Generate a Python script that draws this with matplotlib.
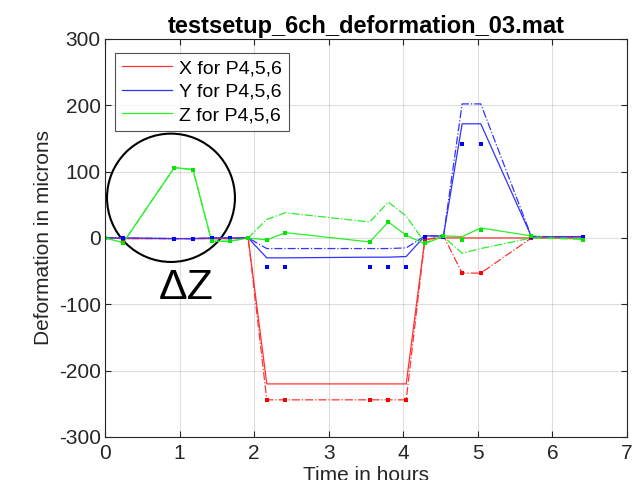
import matplotlib
matplotlib.use("Agg")
import matplotlib.pyplot as plt
from matplotlib.patches import Ellipse
from matplotlib.lines import Line2D

plt.rcParams['font.family'] = ['Liberation Sans', 'DejaVu Sans']
plt.rcParams['axes.unicode_minus'] = False

# time points (hours)
t = [0, 0.245, 0.93, 1.18, 1.43, 1.67, 1.92, 2.17, 2.42, 3.55, 3.80, 4.04,
     4.29, 4.54, 4.79, 5.04, 5.72, 6.41]

# X deformation (red)
x_p4 = [0, -1, -1, -1, -1, -1, 0, -220, -220, -220, -220, -220, -2, 0, 0, 0, 0, 0]
x_p5 = [0, -1, -1, -1, -1, -1, 0, -244, -244, -244, -244, -244, -3, 3, -53, -53, 0, 0]
x_p6 = [0, -1, -1, -1, -1, -1, 0, -244, -244, -244, -244, -244, -3, 2, -53, -53, 0, 0]

# Y deformation (blue)
y_p4 = [0, 0, -1, -1, 0, 0, 0, -30, -30, -29, -29, -28, 3, 3, 172, 172, 2, 2]
y_p5 = [0, 0, -1, -1, 0, 0, 0, -16, -16, -16, -16, -15, 3, 3, 202, 202, 2, 2]
y_p6 = [0, 0, -2, -2, 0, 0, 0, -44, -44, -44, -44, -44, 2, 2, 142, 142, 1, 2]

# Z deformation (green)
z_p4 = [0, -7, 106, 103, -5, -5, 0, -3, 8, -6, 24, 4, -9, 3, 2, 15, 3, -2]
z_p5 = [0, -7, 106, 103, -5, -5, 0, 28, 38, 24, 54, 33, -7, 2, -23, -16, 0, -2]
z_p6 = [0, -7, 106, 103, -5, -5, 0, -3, 8, -6, 24, 4, -8, 3, -3, 12, 3, -3]

legend_labels = ['X for P4,5,6', 'Y for P4,5,6', 'Z for P4,5,6']
title_text = 'testsetup_6ch_deformation_03.mat'
xlabel_text = 'Time in hours'
ylabel_text = 'Deformation in microns'
annot_text = 'ΔZ'

RED = (1.0, 0.2, 0.2)
BLUE = (0.2, 0.2, 1.0)
GREEN = (0.15, 0.95, 0.15)
DARK = (0.15, 0.15, 0.15)

fig = plt.figure(figsize=(6.41, 4.80), dpi=100)
ax = fig.add_axes([0.1638, 0.0896, 0.8142, 0.8294])

lw = 0.9
# solid (P4)
ax.plot(t, x_p4, '-', color=RED, lw=lw)
ax.plot(t, y_p4, '-', color=BLUE, lw=lw)
ax.plot(t, z_p4, '-', color=GREEN, lw=lw)
# dash-dot (P5)
ax.plot(t, x_p5, '-.', color=RED, lw=lw)
ax.plot(t, y_p5, '-.', color=BLUE, lw=lw)
ax.plot(t, z_p5, '-.', color=GREEN, lw=lw)
# markers (P6)
ms = 3
ax.plot(t, x_p6, 's', color=(1, 0, 0), ms=ms, mew=0)
ax.plot(t, y_p6, 's', color=(0, 0, 1), ms=ms, mew=0)
ax.plot(t, z_p6, 's', color=(0, 0.9, 0), ms=ms, mew=0)

ax.set_xlim(0, 7)
ax.set_ylim(-300, 300)
ax.set_xticks(range(0, 8))
ax.set_yticks(range(-300, 301, 100))
ax.grid(True, color=DARK, alpha=0.15, lw=0.8)
ax.tick_params(direction='in', length=4, labelsize=15, colors=DARK,
               top=True, right=True, pad=3)
ax.tick_params(axis='x', pad=5)
for s in ax.spines.values():
    s.set_color(DARK)
    s.set_linewidth(0.8)

ax.set_title(title_text, fontsize=17, fontweight='bold', pad=4)
ax.set_xlabel(xlabel_text, fontsize=15, color=DARK, labelpad=2)
ax.set_ylabel(ylabel_text, fontsize=15, color=DARK, labelpad=4)

handles = [Line2D([], [], color=c, lw=lw) for c in (RED, BLUE, GREEN)]
leg = ax.legend(handles, legend_labels, loc='upper left',
                bbox_to_anchor=(0.0192, 0.965), borderaxespad=0,
                fontsize=14, frameon=True, fancybox=False, edgecolor=DARK,
                handlelength=2.6, borderpad=0.35, labelspacing=0.3,
                handletextpad=0.35)
leg.get_frame().set_linewidth(0.8)

ell = Ellipse((0.885, 60.5), 1.716, 193.4, fill=False, edgecolor='black', lw=1.5)
ax.add_patch(ell)
ax.text(1.086, -75, annot_text, fontsize=31, ha='center', va='center', color='black')

fig.savefig('out.png', dpi=100)
